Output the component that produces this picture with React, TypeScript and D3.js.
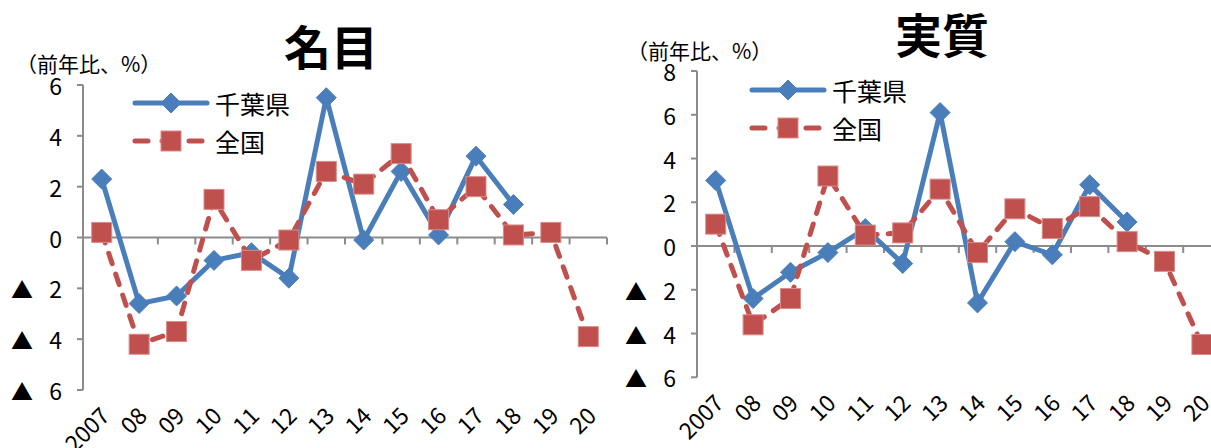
import { useEffect, useRef } from "react";
import * as d3 from "d3";

const years = ["2007", "08", "09", "10", "11", "12", "13", "14", "15", "16", "17", "18", "19", "20"];

// 名目 (nominal)
const nominalChiba = [2.3, -2.6, -2.3, -0.9, -0.6, -1.6, 5.5, -0.1, 2.6, 0.1, 3.2, 1.3, null, null];
const nominalJapan = [0.2, -4.2, -3.7, 1.5, -0.9, -0.1, 2.6, 2.1, 3.3, 0.7, 2.0, 0.1, 0.2, -3.9];
const nominalTicks = [6, 4, 2, 0, -2, -4, -6];

// 実質 (real)
const realChiba = [3.0, -2.4, -1.2, -0.3, 0.8, -0.8, 6.1, -2.6, 0.2, -0.4, 2.8, 1.1, null, null];
const realJapan = [1.0, -3.6, -2.4, 3.2, 0.5, 0.6, 2.6, -0.3, 1.7, 0.8, 1.8, 0.2, -0.7, -4.5];
const realTicks = [8, 6, 4, 2, 0, -2, -4, -6];

const seriesNames = ["千葉県", "全国"];
const BLUE = "#4A7EBB";
const RED = "#C0504D";
const FONT = "'Noto Sans CJK JP', 'Noto Sans', sans-serif";

interface Panel {
  title: string;
  titleX: number;
  titleY: number;
  unitX: number;
  unitY: number;
  left: number;
  width: number;
  top: number;
  bottom: number;
  domain: [number, number];
  ticks: number[];
  chiba: (number | null)[];
  japan: (number | null)[];
  legendX: number;
  legendY: number;
}

const panels: Panel[] = [
  {
    title: "名目", titleX: 331, titleY: 44, unitX: 16, unitY: 63,
    left: 83, width: 524, top: 85, bottom: 390,
    domain: [-6, 6], ticks: nominalTicks,
    chiba: nominalChiba, japan: nominalJapan,
    legendX: 135, legendY: 103,
  },
  {
    title: "実質", titleX: 942, titleY: 32, unitX: 627, unitY: 50,
    left: 697, width: 523.6, top: 71, bottom: 377.3,
    domain: [-6, 8], ticks: realTicks,
    chiba: realChiba, japan: realJapan,
    legendX: 752, legendY: 90,
  },
];

function diamond(g: d3.Selection<SVGGElement, unknown, null, undefined>, x: number, y: number) {
  g.append("path")
    .attr("d", `M${x},${y - 10}L${x + 10},${y}L${x},${y + 10}L${x - 10},${y}Z`)
    .attr("fill", BLUE)
    .attr("stroke", BLUE)
    .attr("stroke-width", 1);
}

function square(g: d3.Selection<SVGGElement, unknown, null, undefined>, x: number, y: number) {
  g.append("rect")
    .attr("x", x - 10)
    .attr("y", y - 10)
    .attr("width", 20)
    .attr("height", 20)
    .attr("fill", RED)
    .attr("stroke", "#D98B89")
    .attr("stroke-width", 1);
}

export default function App() {
  const ref = useRef<SVGSVGElement>(null);

  useEffect(() => {
    const svg = d3.select(ref.current!);
    svg.selectAll("*").remove();

    panels.forEach((p) => {
      const g = svg.append("g") as d3.Selection<SVGGElement, unknown, null, undefined>;
      const x = d3.scaleBand().domain(years).range([p.left, p.left + p.width]);
      const y = d3.scaleLinear().domain(p.domain).range([p.bottom, p.top]);
      const cx = (d: string) => x(d)! + x.bandwidth() / 2;

      // title + unit
      g.append("text")
        .attr("x", p.titleX)
        .attr("y", p.titleY)
        .attr("text-anchor", "middle")
        .attr("dominant-baseline", "central")
        .attr("font-family", FONT)
        .attr("font-weight", "bold")
        .attr("font-size", 47)
        .text(p.title);

      g.append("text")
        .attr("x", p.unitX)
        .attr("y", p.unitY)
        .attr("dominant-baseline", "central")
        .attr("font-family", FONT)
        .attr("font-size", 21)
        .text("（前年比、%）");

      /* ── AXES ─────────────────────────────── */
      g.append("line")
        .attr("x1", p.left).attr("x2", p.left)
        .attr("y1", y(p.domain[1])).attr("y2", y(p.domain[0]))
        .attr("stroke", "#8C8C8C").attr("stroke-width", 2);

      p.ticks.forEach((t) => {
        g.append("line")
          .attr("x1", p.left - 6).attr("x2", p.left)
          .attr("y1", y(t)).attr("y2", y(t))
          .attr("stroke", "#8C8C8C").attr("stroke-width", 2);
        g.append("text")
          .attr("x", p.left - 21)
          .attr("y", y(t))
          .attr("text-anchor", "end")
          .attr("dominant-baseline", "central")
          .attr("font-family", FONT)
          .attr("font-size", 23)
          .text(Math.abs(t));
        if (t < 0) {
          g.append("text")
            .attr("x", p.left - 61)
            .attr("y", y(t))
            .attr("text-anchor", "middle")
            .attr("dominant-baseline", "central")
            .attr("font-family", FONT)
            .attr("font-size", 22)
            .text("▲");
        }
      });

      g.append("line")
        .attr("x1", p.left).attr("x2", p.left + p.width)
        .attr("y1", y(0)).attr("y2", y(0))
        .attr("stroke", "#8C8C8C").attr("stroke-width", 2);

      years.forEach((yr) => {
        const tx = x(yr)! + x.bandwidth();
        g.append("line")
          .attr("x1", tx).attr("x2", tx)
          .attr("y1", y(0)).attr("y2", y(0) + 7)
          .attr("stroke", "#8C8C8C").attr("stroke-width", 2);
        const lx = cx(yr) - 2;
        const ly = y(p.domain[0]) + 16;
        g.append("text")
          .attr("transform", `translate(${lx},${ly}) rotate(-45)`)
          .attr("text-anchor", "end")
          .attr("dy", "0.7em")
          .attr("font-family", FONT)
          .attr("font-size", 23)
          .text(yr);
      });

      /* ── SERIES ───────────────────────────── */
      const line = d3
        .line<number | null>()
        .defined((d) => d != null)
        .x((_, i) => cx(years[i]))
        .y((d) => y(d as number));

      g.append("path")
        .datum(p.chiba)
        .attr("d", line)
        .attr("fill", "none")
        .attr("stroke", BLUE)
        .attr("stroke-width", 5)
        .attr("stroke-linejoin", "round");
      p.chiba.forEach((v, i) => {
        if (v != null) diamond(g, cx(years[i]), y(v));
      });

      g.append("path")
        .datum(p.japan)
        .attr("d", line)
        .attr("fill", "none")
        .attr("stroke", RED)
        .attr("stroke-width", 5)
        .attr("stroke-dasharray", "11,11")
        .attr("stroke-linecap", "round");
      p.japan.forEach((v, i) => {
        if (v != null) square(g, cx(years[i]), y(v));
      });

      /* ── LEGEND ───────────────────────────── */
      const lx0 = p.legendX, lx1 = p.legendX + 72, mid = p.legendX + 36;
      g.append("line")
        .attr("x1", lx0).attr("x2", lx1)
        .attr("y1", p.legendY).attr("y2", p.legendY)
        .attr("stroke", BLUE).attr("stroke-width", 5).attr("stroke-linecap", "round");
      diamond(g, mid, p.legendY);
      g.append("line")
        .attr("x1", lx0).attr("x2", lx1)
        .attr("y1", p.legendY + 38).attr("y2", p.legendY + 38)
        .attr("stroke", RED).attr("stroke-width", 5).attr("stroke-linecap", "round")
        .attr("stroke-dasharray", "13,14");
      square(g, mid, p.legendY + 38);
      seriesNames.forEach((n, i) => {
        g.append("text")
          .attr("x", lx1 + 8)
          .attr("y", p.legendY + i * 38)
          .attr("dominant-baseline", "central")
          .attr("font-family", FONT)
          .attr("font-size", 25)
          .text(n);
      });
    });
  }, []);

  return (
    <svg
      ref={ref}
      width={1211}
      height={448}
      style={{ position: "absolute", left: 0, top: 0, background: "#fff" }}
    />
  );
}
